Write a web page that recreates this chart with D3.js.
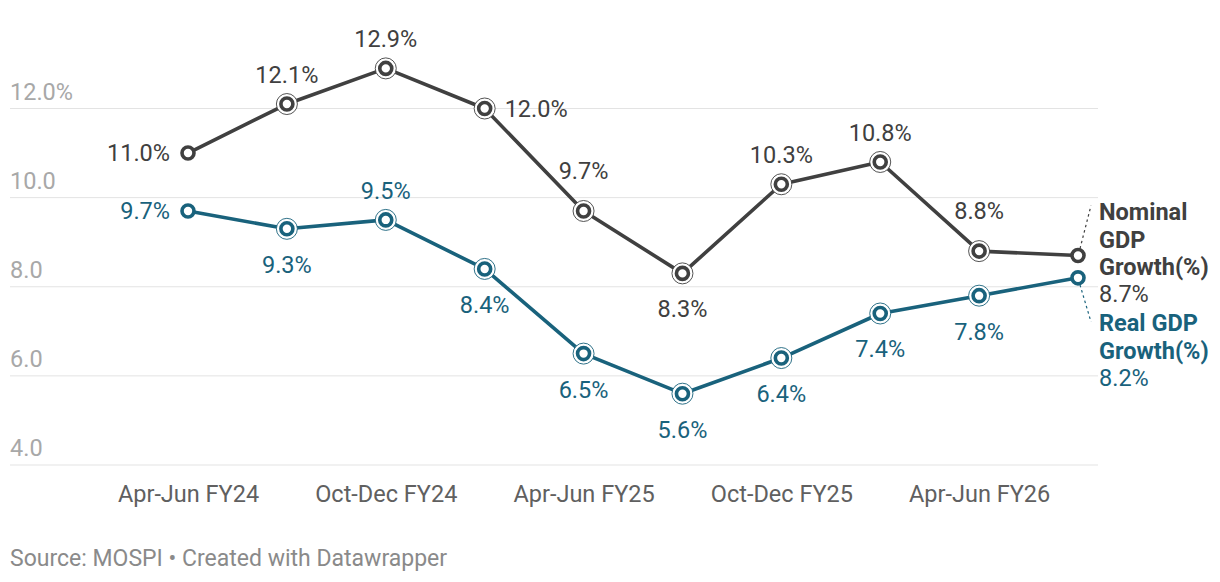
<!DOCTYPE html>
<html lang="en">
<head>
<meta charset="UTF-8">
<title>Nominal vs Real GDP Growth</title>
<script src="https://d3js.org/d3.v7.min.js"></script>
<style>
  body { margin: 0; background: #fff; font-family: Roboto, "Noto Sans", sans-serif; }
  svg text { font-family: Roboto, "Noto Sans", sans-serif; }
</style>
</head>
<body>
<svg id="chart"></svg>
<script>
// Quarters (only every second one gets a tick label)
const quarters = [
  "Apr-Jun FY24", "Jul-Sep FY24", "Oct-Dec FY24", "Jan-Mar FY24",
  "Apr-Jun FY25", "Jul-Sep FY25", "Oct-Dec FY25", "Jan-Mar FY25",
  "Apr-Jun FY26", "Jul-Sep FY26"
];
const tickQuarters = ["Apr-Jun FY24", "Oct-Dec FY24", "Apr-Jun FY25", "Oct-Dec FY25", "Apr-Jun FY26"];
const nominal = [11.0, 12.1, 12.9, 12.0, 9.7, 8.3, 10.3, 10.8, 8.8, 8.7];
const real    = [9.7, 9.3, 9.5, 8.4, 6.5, 5.6, 6.4, 7.4, 7.8, 8.2];
const yTicks = [4, 6, 8, 10, 12];

// where each value label sits relative to its point
const nominalPlace = ["left", "above", "above", "right", "high", "below", "above", "above", "high", "none"];
const realPlace    = ["left", "below", "above", "below", "below", "below", "below", "below", "below", "none"];

const width = 1220, height = 582;
const nomColor = "#404040", realColor = "#19627c";
const fs = 23.5;

const svg = d3.select("#chart").attr("width", width).attr("height", height);

const x = d3.scalePoint().domain(quarters).range([188, 1078]);
const y = d3.scaleLinear().domain([4, 12]).range([465, 108.5]);

// gridlines + y labels
const grid = svg.append("g");
grid.selectAll("line").data(yTicks).enter().append("line")
  .attr("x1", 10).attr("x2", 1098)
  .attr("y1", d => y(d)).attr("y2", d => y(d))
  .attr("stroke", "#e3e3e3").attr("stroke-width", 1);
grid.selectAll("text").data(yTicks).enter().append("text")
  .attr("x", 10).attr("y", d => y(d) - 9)
  .attr("font-size", fs).attr("fill", "#a8a8a8")
  .text(d => d === 12 ? d.toFixed(1) + "%" : d.toFixed(1));

// x axis labels
const xAxis = d3.axisBottom(x).tickValues(tickQuarters).tickSize(0).tickPadding(0);
const xg = svg.append("g").attr("transform", "translate(0,485)").call(xAxis);
xg.select(".domain").remove();
xg.selectAll("text").attr("font-size", fs).attr("fill", "#606060")
  .attr("font-family", "Roboto, 'Noto Sans', sans-serif").attr("dy", "0.71em");

const line = d3.line().x((d, i) => x(quarters[i])).y(d => y(d));

function drawSeries(values, color, place) {
  svg.append("path").datum(values)
    .attr("d", line).attr("fill", "none")
    .attr("stroke", color).attr("stroke-width", 3.6)
    .attr("stroke-linejoin", "round");

  const g = svg.append("g");
  // outer thin rings (not on first and last points)
  g.selectAll(".ring").data(values.slice(1, -1)).enter().append("circle")
    .attr("cx", (d, i) => x(quarters[i + 1])).attr("cy", d => y(d))
    .attr("r", 10.5).attr("fill", "#fff").attr("stroke", color).attr("stroke-width", 0.9);
  g.selectAll(".dot").data(values).enter().append("circle")
    .attr("cx", (d, i) => x(quarters[i])).attr("cy", d => y(d))
    .attr("r", 6).attr("fill", "#fff").attr("stroke", color).attr("stroke-width", 3.6);

  values.forEach((d, i) => {
    const p = place[i];
    if (p === "none") return;
    const px = x(quarters[i]), py = y(d);
    const t = g.append("text")
      .attr("font-size", fs).attr("fill", color)
      .attr("dominant-baseline", "central")
      .text(d.toFixed(1) + "%");
    if (p === "left") t.attr("x", px - 18).attr("y", py).attr("text-anchor", "end");
    else if (p === "right") t.attr("x", px + 20).attr("y", py).attr("text-anchor", "start");
    else if (p === "above") t.attr("x", px).attr("y", py - 29).attr("text-anchor", "middle");
    else if (p === "high") t.attr("x", px).attr("y", py - 40).attr("text-anchor", "middle");
    else t.attr("x", px).attr("y", py + 36).attr("text-anchor", "middle");
  });
}

drawSeries(real, realColor, realPlace);
drawSeries(nominal, nomColor, nominalPlace);

// end labels with dotted connectors
const lastQ = quarters[quarters.length - 1];
const lx = 1099;
const nomLast = nominal[nominal.length - 1], realLast = real[real.length - 1];

svg.append("line")
  .attr("x1", x(lastQ) + 2).attr("y1", y(nomLast) - 7)
  .attr("x2", x(lastQ) + 13).attr("y2", y(nomLast) - 50)
  .attr("stroke", nomColor).attr("stroke-width", 1.2).attr("stroke-dasharray", "2.5,3");
svg.append("line")
  .attr("x1", x(lastQ) + 2).attr("y1", y(realLast) + 7)
  .attr("x2", x(lastQ) + 13).attr("y2", y(realLast) + 44)
  .attr("stroke", realColor).attr("stroke-width", 1.2).attr("stroke-dasharray", "2.5,3");

const endLabels = [
  { lines: ["Nominal", "GDP", "Growth(%)"], value: nomLast, color: nomColor, top: 212, lh: 27.5 },
  { lines: ["Real GDP", "Growth(%)"], value: realLast, color: realColor, top: 323, lh: 27.5 }
];
endLabels.forEach(l => {
  const t = svg.append("text").attr("font-size", fs).attr("fill", l.color)
    .attr("dominant-baseline", "central");
  l.lines.forEach((s, i) => {
    t.append("tspan").attr("x", lx).attr("y", l.top + i * l.lh)
      .attr("font-weight", 700).text(s);
  });
  t.append("tspan").attr("x", lx).attr("y", l.top + l.lines.length * l.lh - 0.5)
    .text(l.value.toFixed(1) + "%");
});

// footer
svg.append("text").attr("x", 10).attr("y", 566)
  .attr("font-size", 23).attr("fill", "#8a8a8a")
  .text("Source: MOSPI • Created with Datawrapper");
</script>
</body>
</html>
